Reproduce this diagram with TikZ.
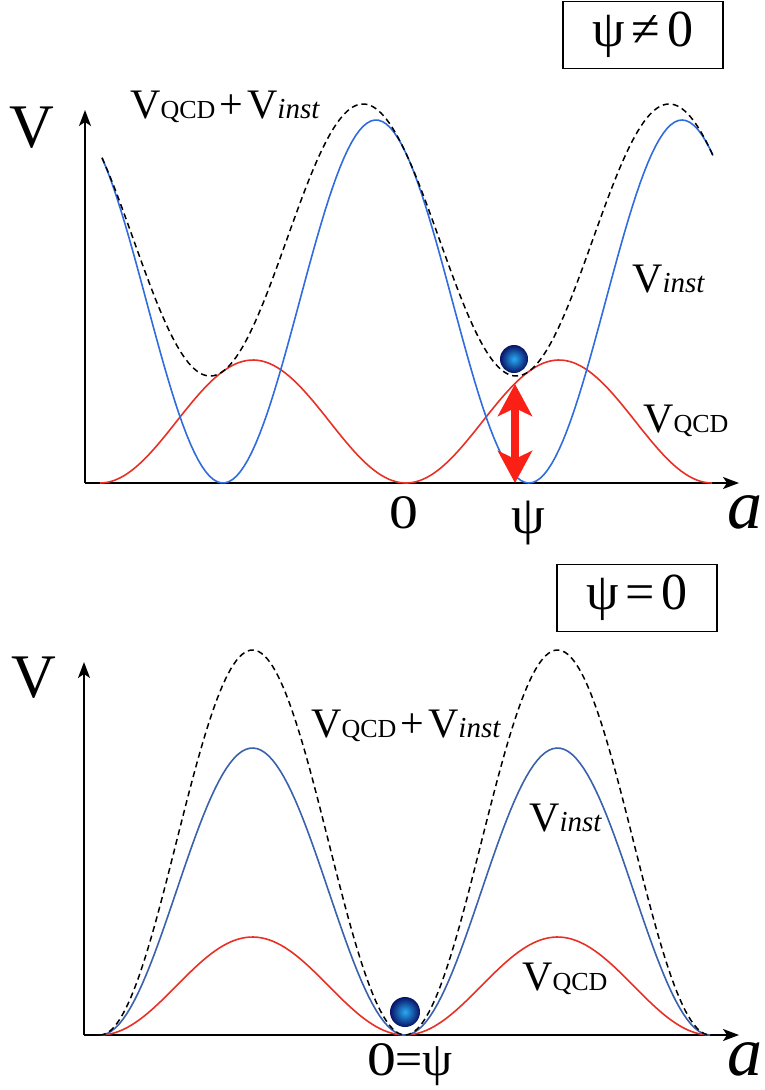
\documentclass[tikz,border=0pt]{standalone}
\usepackage{graphicx}
\usepackage{fontspec}
\setmainfont{Liberation Serif}
\usetikzlibrary{arrows.meta}

\definecolor{qcdred}{RGB}{232,48,36}
\definecolor{liftred}{RGB}{250,32,22}
\definecolor{instblue}{RGB}{48,108,222}
\definecolor{inststeel}{RGB}{58,98,172}
\definecolor{ballin}{RGB}{40,170,245}
\definecolor{ballout}{RGB}{8,18,100}

\newcommand{\fs}[1]{\fontsize{#1}{#1}\selectfont}
\newcommand{\Vqcd}{V{\fs{26}QCD}}
\newcommand{\Vinst}{V{\fs{29}\itshape inst}}
\newcommand{\wz}{\scalebox{1.2}[1]{0}}

\begin{document}
\begin{tikzpicture}[x=1pt,y=-1pt,
  axis/.style={line width=1.8pt,-{Stealth[length=16pt,width=12pt,inset=4pt]}},
  qcd/.style={qcdred,line width=1.6pt},
  inst/.style={instblue,line width=1.6pt},
  total/.style={black,line width=1.5pt,dash pattern=on 6pt off 4pt},
  lift/.style={liftred,line width=8pt,
    {Stealth[length=32pt,width=34pt,inset=8pt]}-{Stealth[length=32pt,width=34pt,inset=8pt]}},
  lbl/.style={inner sep=0pt,anchor=base west,font=\fs{42}},
  num/.style={inner sep=0pt,anchor=base,font=\fs{48}},
  tag/.style={draw,line width=1.5pt,minimum width=160pt,minimum height=67pt,inner sep=0pt,font=\fs{52}}]
  \useasboundingbox (0,0) rectangle (764,1090);

  \coordinate (O1) at (85,483);
  \coordinate (Y1) at (85,110);
  \coordinate (X1) at (739,483);
  \coordinate (liftTop) at (515,384);
  \coordinate (liftBot) at (515,483);

  \draw[axis] (O1) -- (Y1);
  \draw[axis] (O1) -- (X1);
  \draw[qcd] plot[domain=100:712,samples=160] (\x,{483-61.5*(1-cos(1.17647*(\x-100)))});
  \draw[inst] plot[domain=102:713,samples=160] (\x,{483-181.5*(1-cos(1.17647*(\x-223)))});
  \draw[total] plot[domain=102:713,samples=220] (\x,{483-61.5*(1-cos(1.17647*(\x-100)))-181.5*(1-cos(1.17647*(\x-223)))});
  \draw[lift] (liftBot) -- (liftTop);
  \shade[inner color=ballin,outer color=ballout] (514,359) circle[radius=14pt];

  \node[inner sep=0pt,anchor=base west,font=\fs{62}] (vT) at (9,147) {V};
  \node[lbl] (sumT) at (130,118) {\Vqcd\kern4pt+\kern4pt\Vinst};
  \node[lbl] (instT) at (632,292) {\Vinst};
  \node[lbl] (qcdT) at (643,432) {\Vqcd};
  \node[num] (zeroT) at (404,528) {\wz};
  \node[num,font=\fs{54}] (psiT) at (528,533) {ψ};
  \node[num,font=\fs{70}\itshape] (aT) at (745,528) {a};
  \node[tag] (tagT) at (643,35) {ψ\kern7pt≠\kern7pt0};

  \coordinate (O2) at (84,1035);
  \coordinate (Y2) at (84,662);
  \coordinate (X2) at (739,1035);

  \draw[axis] (O2) -- (Y2);
  \draw[axis] (O2) -- (X2);
  \draw[qcd] plot[domain=100:710,samples=160] (\x,{1035-49*(1-cos(1.18033*(\x-100)))});
  \draw[inst,inststeel] plot[domain=100:710,samples=160] (\x,{1035-143.5*(1-cos(1.18033*(\x-100)))});
  \draw[total] plot[domain=100:710,samples=220] (\x,{1035-192.5*(1-cos(1.18033*(\x-100)))});
  \shade[inner color=ballin,outer color=ballout] (405,1012) circle[radius=15pt];

  \node[inner sep=0pt,anchor=base west,font=\fs{62}] (vB) at (11,697) {V};
  \node[lbl] (sumB) at (311,737) {\Vqcd\kern4pt+\kern4pt\Vinst};
  \node[lbl] (instB) at (529,831) {\Vinst};
  \node[lbl] (qcdB) at (522,990) {\Vqcd};
  \node[num] (zeroB) at (410,1075) {\wz=ψ};
  \node[num,font=\fs{70}\itshape] (aB) at (745,1075) {a};
  \node[tag] (tagB) at (637,598) {ψ\kern7pt=\kern7pt0};
\end{tikzpicture}
\end{document}
